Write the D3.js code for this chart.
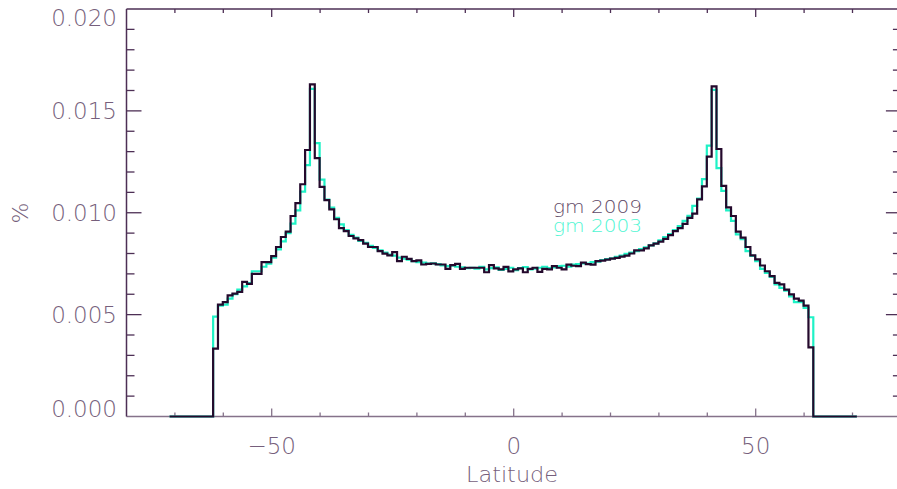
<!DOCTYPE html>
<html>
<head>
<meta charset="utf-8">
<script src="https://cdn.jsdelivr.net/npm/d3@7"></script>
<style>
  body { margin: 0; background: #fff; }
  svg { display: block; }
  text { font-family: "DejaVu Sans", sans-serif; font-weight: 200; fill: #765f7c; }
</style>
</head>
<body>
<svg id="chart" width="897" height="489"></svg>
<script>
/* Latitude histograms, 1 degree bins starting at binStart */
var binStart = -71.1,
    binWidth = 1;

var gm2009 = [
  0, 0, 0, 0, 0, 0, 0, 0, 0,
  0.00333, 0.00549, 0.00561, 0.00594, 0.00603, 0.00612, 0.00661, 0.00651, 0.00700, 0.00700,
  0.00758, 0.00758, 0.00787, 0.00832, 0.00881, 0.00907, 0.00984, 0.01047, 0.01140, 0.01308,
  0.01630, 0.01268, 0.01127, 0.01062, 0.01017, 0.00968, 0.00925, 0.00910, 0.00886, 0.00874,
  0.00866, 0.00848, 0.00832, 0.00832, 0.00812, 0.00799, 0.00791, 0.00807, 0.00763, 0.00784,
  0.00774, 0.00763, 0.00766, 0.00746, 0.00749, 0.00751, 0.00746, 0.00746, 0.00725, 0.00743,
  0.00749, 0.00725, 0.00730, 0.00730, 0.00730, 0.00730, 0.00708, 0.00743, 0.00727, 0.00722,
  0.00734, 0.00712, 0.00722, 0.00727, 0.00708, 0.00725, 0.00730, 0.00710, 0.00725, 0.00722,
  0.00738, 0.00730, 0.00722, 0.00745, 0.00740, 0.00738, 0.00755, 0.00748, 0.00745, 0.00763,
  0.00765, 0.00770, 0.00775, 0.00779, 0.00785, 0.00790, 0.00800, 0.00815, 0.00815, 0.00825,
  0.00840, 0.00848, 0.00858, 0.00872, 0.00890, 0.00910, 0.00925, 0.00945, 0.00975, 0.00996,
  0.01066, 0.01129, 0.01275, 0.01620, 0.01313, 0.01132, 0.01026, 0.00984, 0.00907, 0.00878,
  0.00832, 0.00791, 0.00771, 0.00741, 0.00713, 0.00689, 0.00656, 0.00648, 0.00623, 0.00599,
  0.00579, 0.00569, 0.00544, 0.00339,
  0, 0, 0, 0, 0, 0, 0, 0, 0
];

var gm2003 = [
  0, 0, 0, 0, 0, 0, 0, 0, 0,
  0.00490, 0.00544, 0.00549, 0.00579, 0.00600, 0.00623, 0.00639, 0.00655, 0.00713, 0.00713,
  0.00735, 0.00750, 0.00780, 0.00820, 0.00860, 0.00900, 0.00947, 0.01012, 0.01104, 0.01234,
  0.01608, 0.01342, 0.01163, 0.01065, 0.01025, 0.00975, 0.00943, 0.00915, 0.00892, 0.00878,
  0.00862, 0.00852, 0.00838, 0.00828, 0.00815, 0.00805, 0.00795, 0.00790, 0.00780, 0.00775,
  0.00770, 0.00762, 0.00758, 0.00755, 0.00750, 0.00752, 0.00748, 0.00742, 0.00738, 0.00740,
  0.00735, 0.00732, 0.00728, 0.00730, 0.00726, 0.00735, 0.00722, 0.00728, 0.00732, 0.00720,
  0.00725, 0.00730, 0.00718, 0.00728, 0.00733, 0.00722, 0.00726, 0.00730, 0.00735, 0.00728,
  0.00732, 0.00738, 0.00740, 0.00736, 0.00745, 0.00748, 0.00752, 0.00750, 0.00758, 0.00760,
  0.00768, 0.00772, 0.00776, 0.00784, 0.00790, 0.00798, 0.00805, 0.00812, 0.00822, 0.00830,
  0.00840, 0.00850, 0.00865, 0.00880, 0.00895, 0.00915, 0.00935, 0.00960, 0.00985, 0.01034,
  0.01070, 0.01165, 0.01329, 0.01603, 0.01219, 0.01107, 0.01012, 0.00960, 0.00894, 0.00870,
  0.00812, 0.00788, 0.00763, 0.00725, 0.00705, 0.00685, 0.00648, 0.00631, 0.00618, 0.00590,
  0.00561, 0.00561, 0.00533, 0.00487,
  0, 0, 0, 0, 0, 0, 0, 0, 0
];

var xTickLabels = [-50, 0, 50];
var yTickLabels = ['0.000', '0.005', '0.010', '0.015', '0.020'];
var seriesNames = ['gm 2009', 'gm 2003'];

var svg = d3.select('#chart');

var x = d3.scaleLinear().domain([-80, 80]).range([126.5, 900.9]);
var y = d3.scaleLinear().domain([0, 0.020]).range([416.5, 9]);

var axisColor = '#4d2f55',
    lightAxis = '#85728a';

// Turns bin values into step points, closing the last bin
var toSteps = function(values) {
  var pts = values.map(function(v, i) { return [binStart + i * binWidth, v]; });
  pts.push([binStart + values.length * binWidth, values[values.length - 1]]);
  return pts;
};

var line = d3.line()
    .x(function(d) { return x(d[0]); })
    .y(function(d) { return y(d[1]); })
    .curve(d3.curveStepAfter);

// Frame
var frame = svg.append('g');
frame.append('line').attr('x1', x(-80)).attr('x2', x(80)).attr('y1', y(0.020)).attr('y2', y(0.020))
  .attr('stroke', axisColor).attr('stroke-width', 1.5);
frame.append('line').attr('x1', x(-80)).attr('x2', x(80)).attr('y1', y(0)).attr('y2', y(0))
  .attr('stroke', lightAxis).attr('stroke-width', 1.5);
frame.append('line').attr('x1', x(-80)).attr('x2', x(-80)).attr('y1', y(0)).attr('y2', y(0.020))
  .attr('stroke', axisColor).attr('stroke-width', 1.5);
frame.append('line').attr('x1', x(80)).attr('x2', x(80)).attr('y1', y(0)).attr('y2', y(0.020))
  .attr('stroke', axisColor).attr('stroke-width', 1.5);

// x ticks (bottom and top), major every 50, minor every 10
var xMinor = d3.range(-70, 80, 10);
xMinor.forEach(function(t) {
  var len = (t % 50 === 0) ? 8 : 4;
  frame.append('line').attr('x1', x(t)).attr('x2', x(t))
    .attr('y1', y(0)).attr('y2', y(0) - len)
    .attr('stroke', lightAxis).attr('stroke-width', 1.3);
  frame.append('line').attr('x1', x(t)).attr('x2', x(t))
    .attr('y1', y(0.020)).attr('y2', y(0.020) + len)
    .attr('stroke', axisColor).attr('stroke-width', 1.3);
});

// y ticks (left and right), major every 0.005, minor every 0.001
d3.range(1, 20).forEach(function(i) {
  var t = i * 0.001;
  var len = (i % 5 === 0) ? 15 : 8;
  frame.append('line').attr('x1', x(-80)).attr('x2', x(-80) + len)
    .attr('y1', y(t)).attr('y2', y(t))
    .attr('stroke', axisColor).attr('stroke-width', 1.3);
  frame.append('line').attr('x1', x(80)).attr('x2', x(80) - len)
    .attr('y1', y(t)).attr('y2', y(t))
    .attr('stroke', axisColor).attr('stroke-width', 1.3);
});

// tick labels
svg.append('g').selectAll('text')
  .data(xTickLabels)
  .enter().append('text')
  .attr('x', function(d) { return x(d); })
  .attr('y', 454)
  .attr('text-anchor', 'middle')
  .style('font-size', '23px')
  .text(function(d) { return d < 0 ? '\u2212' + Math.abs(d) : d; });

svg.append('g').selectAll('text')
  .data(yTickLabels)
  .enter().append('text')
  .attr('x', 117)
  .attr('y', function(d) { return Math.max(18, Math.min(409, y(+d))); })
  .attr('dy', '0.36em')
  .attr('text-anchor', 'end')
  .style('font-size', '23px')
  .text(function(d) { return d; });

svg.append('text')
  .attr('x', 512).attr('y', 482)
  .attr('text-anchor', 'middle')
  .style('font-size', '21px')
  .attr('textLength', 92)
  .attr('lengthAdjust', 'spacingAndGlyphs')
  .text('Latitude');

svg.append('text')
  .attr('transform', 'translate(28,213) rotate(-90)')
  .attr('text-anchor', 'middle')
  .style('font-size', '22px')
  .text('%');

// series: older first, newer drawn on top
svg.append('path')
  .attr('d', line(toSteps(gm2003)))
  .attr('fill', 'none')
  .attr('stroke', '#1ff2c6')
  .attr('stroke-width', 2.2);

svg.append('path')
  .attr('d', line(toSteps(gm2009)))
  .attr('fill', 'none')
  .attr('stroke', '#24092c')
  .attr('stroke-width', 2.2);

// legend
var legendColors = ['#5f4a66', '#4ff5d2'];
svg.append('g').selectAll('text')
  .data(seriesNames)
  .enter().append('text')
  .attr('x', 553)
  .attr('y', function(d, i) { return 213 + i * 19; })
  .attr('textLength', 89)
  .attr('lengthAdjust', 'spacingAndGlyphs')
  .style('font-size', '18px')
  .style('fill', function(d, i) { return legendColors[i]; })
  .text(function(d) { return d; });
</script>
</body>
</html>
